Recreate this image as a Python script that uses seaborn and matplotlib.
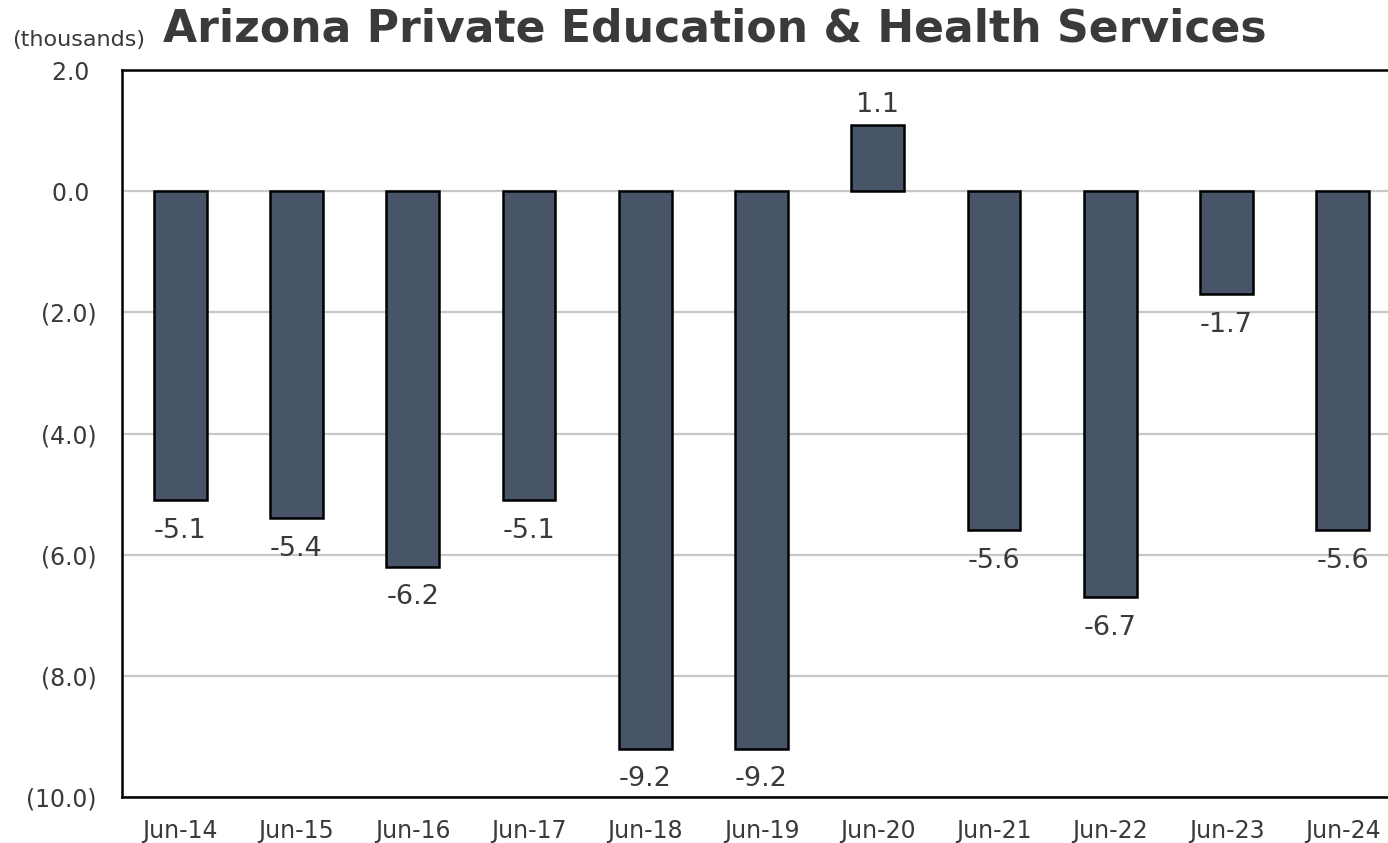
import matplotlib
matplotlib.use("Agg")
import matplotlib.pyplot as plt
import seaborn as sns
import pandas as pd

# data (thousands)
periods = ["Jun-14", "Jun-15", "Jun-16", "Jun-17", "Jun-18", "Jun-19",
           "Jun-20", "Jun-21", "Jun-22", "Jun-23", "Jun-24"]
change = [-5.1, -5.4, -6.2, -5.1, -9.2, -9.2, 1.1, -5.6, -6.7, -1.7, -5.6]
yticks = [2, 0, -2, -4, -6, -8, -10]

df = pd.DataFrame({"period": periods, "change": change})

sns.set_style("white")
plt.rcParams["font.family"] = ["DejaVu Sans"]
text_col = "#3a3a3a"

fig = plt.figure(figsize=(13.88, 8.43), dpi=100)
# plot area runs past the right edge, like the cropped original
ax = fig.add_axes([122 / 1388, 46 / 843, 1279 / 1388, 727 / 843])

sns.barplot(data=df, x="period", y="change", color="#485467", width=0.455,
            edgecolor="black", linewidth=1.8, saturation=1, ax=ax, zorder=3)

ax.set_ylim(-10, 2)
ax.set_xlim(-0.5, len(periods) - 0.5)
ax.set_yticks(yticks)
# accounting style: negatives in brackets, positives padded for the bracket
ax.set_yticklabels([f"{v:.1f} " if v >= 0 else f"({abs(v):.1f})" for v in yticks])
ax.yaxis.grid(True, color="#c8c8c8", linewidth=1.6, zorder=0)
ax.xaxis.grid(False)
ax.tick_params(axis="both", length=0, labelsize=17, colors=text_col)
ax.tick_params(axis="y", pad=18)
ax.tick_params(axis="x", pad=16)
ax.set_xlabel("")
ax.set_ylabel("")
for side in ["left", "top", "bottom", "right"]:
    ax.spines[side].set_color("black")
    ax.spines[side].set_linewidth(1.8)

for i, v in enumerate(change):
    off = 14 if v > 0 else -22
    ax.annotate(f"{v:.1f}", (i, v), xytext=(0, off), textcoords="offset points",
                ha="center", va="center", fontsize=19.5, color=text_col)

fig.text(715 / 1388, 1 - 29 / 843, "Arizona Private Education & Health Services",
         ha="center", va="center", fontsize=31.8, fontweight="bold", color=text_col)
fig.text(12 / 1388, 1 - 40 / 843, "(thousands)", ha="left", va="center",
         fontsize=16, color=text_col)

fig.savefig("out.png", dpi=100)
